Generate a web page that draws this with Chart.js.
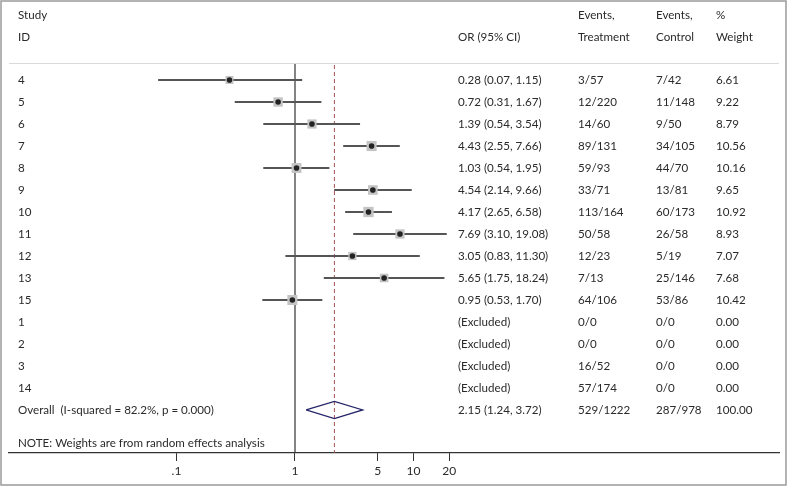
<!DOCTYPE html>
<html lang="en">
<head>
    <meta charset="UTF-8">
    <title>Forest plot</title>
    <script src="https://cdn.jsdelivr.net/npm/chart.js"></script>
    <style>
        body {
            margin: 0;
            background-color: white;
        }
        #wrap {
            width: 788px;
            height: 487px;
        }
    </style>
</head>
<body>
    <div id="wrap">
        <canvas id="forest" width="788" height="487"></canvas>
    </div>

    <script>
        // Study data
        const studyIds = ['4', '5', '6', '7', '8', '9', '10', '11', '12', '13', '15', '1', '2', '3', '14'];
        const oddsRatios = [0.28, 0.72, 1.39, 4.43, 1.03, 4.54, 4.17, 7.69, 3.05, 5.65, 0.95, null, null, null, null];
        const ciLow = [0.07, 0.31, 0.54, 2.55, 0.54, 2.14, 2.65, 3.10, 0.83, 1.75, 0.53, null, null, null, null];
        const ciHigh = [1.15, 1.67, 3.54, 7.66, 1.95, 9.66, 6.58, 19.08, 11.30, 18.24, 1.70, null, null, null, null];
        const eventsTreatment = ['3/57', '12/220', '14/60', '89/131', '59/93', '33/71', '113/164', '50/58', '12/23', '7/13', '64/106', '0/0', '0/0', '16/52', '57/174'];
        const eventsControl = ['7/42', '11/148', '9/50', '34/105', '44/70', '13/81', '60/173', '26/58', '5/19', '25/146', '53/86', '0/0', '0/0', '0/0', '0/0'];
        const weights = [6.61, 9.22, 8.79, 10.56, 10.16, 9.65, 10.92, 8.93, 7.07, 7.68, 10.42, 0.00, 0.00, 0.00, 0.00];

        // Pooled estimate
        const overallLabel = 'Overall  (I-squared = 82.2%, p = 0.000)';
        const overallOR = 2.15;
        const overallLow = 1.24;
        const overallHigh = 3.72;
        const overallTreatment = '529/1222';
        const overallControl = '287/978';
        const overallWeight = 100.00;

        const noteText = 'NOTE: Weights are from random effects analysis';

        // x axis ticks
        const tickValues = [0.1, 1, 5, 10, 20];
        const tickLabels = ['.1', '1', '5', '10', '20'];

        const fontFamily = 'Lato';
        const fontSize = 11.6;
        const textFont = fontSize + 'px "' + fontFamily + '"';
        const textColor = '#2a2a2a';
        const overallRow = studyIds.length;
        const noteRow = overallRow + 1.5;
        const yTop = -0.773, yBottom = 16.955;

        function fmt(v) { return v.toFixed(2); }

        // one segment per study for the confidence intervals
        const ciDatasets = [];
        oddsRatios.forEach(function(or, i) {
            if (or === null) return;
            ciDatasets.push({
                type: 'scatter',
                data: [{ x: ciLow[i], y: i }, { x: ciHigh[i], y: i }],
                showLine: true,
                borderColor: '#555',
                borderWidth: 1.8,
                pointRadius: 0
            });
        });

        const studyPoints = [];
        const boxSizes = [];
        oddsRatios.forEach(function(or, i) {
            if (or === null) return;
            studyPoints.push({ x: or, y: i });
            // box area proportional to weight (rect side = radius * sqrt2)
            boxSizes.push(3.1 * Math.sqrt(weights[i]) / Math.SQRT2);
        });

        const diamondHalf = 0.39;
        const diamond = [
            { x: overallLow, y: overallRow },
            { x: overallOR, y: overallRow - diamondHalf },
            { x: overallHigh, y: overallRow },
            { x: overallOR, y: overallRow + diamondHalf },
            { x: overallLow, y: overallRow }
        ];

        const tablePlugin = {
            id: 'tablePlugin',
            beforeDraw(chart) {
                const ctx = chart.ctx;
                ctx.save();
                ctx.fillStyle = 'white';
                ctx.fillRect(0, 0, chart.width, chart.height);
                ctx.restore();
            },
            afterDraw(chart) {
                const ctx = chart.ctx;
                const y = chart.scales.y;
                const area = chart.chartArea;
                ctx.save();

                // header rule
                ctx.strokeStyle = '#dadada';
                ctx.lineWidth = 1;
                ctx.beginPath();
                ctx.moveTo(area.left, area.top + 0.5);
                ctx.lineTo(area.right, area.top + 0.5);
                ctx.stroke();

                // outer frame
                ctx.strokeStyle = '#9a9a9a';
                ctx.lineWidth = 1.5;
                ctx.strokeRect(1, 1, chart.width - 3, chart.height - 3);

                ctx.font = textFont;
                ctx.fillStyle = textColor;
                ctx.textBaseline = 'middle';
                ctx.textAlign = 'left';

                const colId = 18, colOR = 458, colT = 578, colC = 656, colW = 716;

                // headers
                ctx.fillText('Study', colId, 15);
                ctx.fillText('ID', colId, 37);
                ctx.fillText('OR (95% CI)', colOR, 37);
                ctx.fillText('Events,', colT, 15);
                ctx.fillText('Treatment', colT, 37);
                ctx.fillText('Events,', colC, 15);
                ctx.fillText('Control', colC, 37);
                ctx.fillText('%', colW, 15);
                ctx.fillText('Weight', colW, 37);

                studyIds.forEach(function(id, i) {
                    const py = y.getPixelForValue(i);
                    const orText = oddsRatios[i] === null ? '(Excluded)'
                        : fmt(oddsRatios[i]) + ' (' + fmt(ciLow[i]) + ', ' + fmt(ciHigh[i]) + ')';
                    ctx.fillText(id, colId, py);
                    ctx.fillText(orText, colOR, py);
                    ctx.fillText(eventsTreatment[i], colT, py);
                    ctx.fillText(eventsControl[i], colC, py);
                    ctx.fillText(fmt(weights[i]), colW, py);
                });

                const oy = y.getPixelForValue(overallRow);
                ctx.fillText(overallLabel, colId, oy);
                ctx.fillText(fmt(overallOR) + ' (' + fmt(overallLow) + ', ' + fmt(overallHigh) + ')', colOR, oy);
                ctx.fillText(overallTreatment, colT, oy);
                ctx.fillText(overallControl, colC, oy);
                ctx.fillText(fmt(overallWeight), colW, oy);

                ctx.fillText(noteText, colId, y.getPixelForValue(noteRow));
                ctx.restore();
            }
        };

        const ctx = document.getElementById('forest').getContext('2d');
        new Chart(ctx, {
            type: 'scatter',
            data: {
                datasets: [
                    {
                        // point estimate dots
                        data: studyPoints,
                        pointStyle: 'circle',
                        pointRadius: 2.8,
                        backgroundColor: '#222',
                        borderWidth: 0
                    },
                    {
                        // weight boxes
                        data: studyPoints,
                        pointStyle: 'rect',
                        pointRadius: boxSizes,
                        backgroundColor: '#c4c4c4',
                        borderWidth: 0
                    },
                    {
                        // pooled diamond
                        data: diamond,
                        showLine: true,
                        borderColor: '#25256a',
                        borderWidth: 1.3,
                        pointRadius: 0
                    },
                    ...ciDatasets,
                    {
                        // pooled estimate line
                        data: [{ x: overallOR, y: -0.68 }, { x: overallOR, y: yBottom }],
                        showLine: true,
                        borderColor: '#a0524f',
                        borderWidth: 1,
                        borderDash: [4, 3],
                        pointRadius: 0
                    },
                    {
                        // line of no effect
                        data: [{ x: 1, y: yTop }, { x: 1, y: yBottom }],
                        showLine: true,
                        borderColor: '#333',
                        borderWidth: 1.2,
                        pointRadius: 0
                    }
                ]
            },
            options: {
                responsive: false,
                animation: false,
                layout: {
                    padding: { left: 9, right: 9, top: 63, bottom: 8 }
                },
                plugins: {
                    legend: { display: false },
                    tooltip: { enabled: false }
                },
                scales: {
                    x: {
                        type: 'logarithmic',
                        min: Math.pow(10, -2.4135),
                        max: Math.pow(10, 4.0844),
                        afterBuildTicks: function(scale) {
                            scale.ticks = tickValues.map(function(v) { return { value: v }; });
                        },
                        afterFit: function(scale) {
                            scale.height = 26;
                        },
                        ticks: {
                            autoSkip: false,
                            maxRotation: 0,
                            padding: 3,
                            color: textColor,
                            font: { family: fontFamily, size: 12 },
                            callback: function(value, index) { return tickLabels[index]; }
                        },
                        grid: {
                            drawOnChartArea: false,
                            drawTicks: true,
                            tickLength: 8,
                            color: '#333'
                        },
                        border: { display: true, color: '#333', width: 1.2 }
                    },
                    y: {
                        type: 'linear',
                        display: false,
                        reverse: true,
                        min: yTop,
                        max: yBottom
                    }
                }
            },
            plugins: [tablePlugin]
        });
    </script>
</body>
</html>
